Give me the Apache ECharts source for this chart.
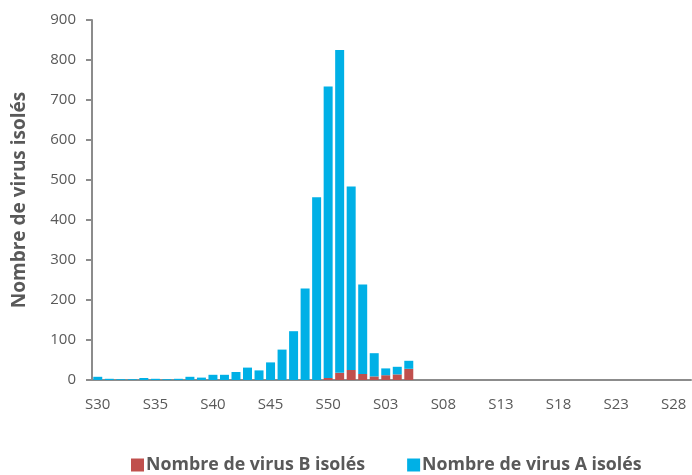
<!DOCTYPE html>
<html>
<head>
<meta charset="utf-8">
<script src="https://cdn.jsdelivr.net/npm/echarts@6/dist/echarts.min.js"></script>
<style>html,body{margin:0;padding:0;background:#fff}#c{width:692px;height:475px}</style>
</head>
<body>
<div id="c"></div>
<script>
const weeks = ["S30","S31","S32","S33","S34","S35","S36","S37","S38","S39","S40","S41","S42","S43","S44","S45","S46","S47","S48","S49","S50","S51","S52",
  "S01","S02","S03","S04","S05","S06","S07","S08","S09","S10","S11","S12","S13","S14","S15","S16","S17","S18","S19","S20","S21","S22","S23","S24","S25","S26","S27","S28","S29"];
const virusB = [0,0,0,0,0,0,0,0,0,0,0,0,0,0,0,0,0,0,0,0,5,18,25,
  15,9,12,14,28,0,0,0,0,0,0,0,0,0,0,0,0,0,0,0,0,0,0,0,0,0,0,0,0];
const virusA = [8,3,2,2,5,3,2,3,8,6,13,13,20,31,24,44,76,122,229,457,729,807,459,
  224,58,17,19,20,0,0,0,0,0,0,0,0,0,0,0,0,0,0,0,0,0,0,0,0,0,0,0,0];
const yTicks = { min: 0, max: 900, step: 100 };
const seriesNames = ["Nombre de virus B isolés", "Nombre de virus A isolés"];
const yTitle = "Nombre de virus isolés";

const font = "'Open Sans', sans-serif";
const grey = '#595959';
const axisGrey = '#8c8c8c';
const chart = echarts.init(document.getElementById('c'), null, {renderer: 'canvas'});
chart.setOption({
  animation: false,
  backgroundColor: '#fff',
  grid: { left: 92, right: 1, top: 20, bottom: 95 },
  legend: {
    left: 126, top: 451,
    itemWidth: 13, itemHeight: 13, itemGap: 42,
    icon: 'rect',
    textStyle: { fontFamily: font, fontSize: 17.8, fontWeight: 'bold', color: grey, padding: [0,0,0,-3] },
    data: seriesNames
  },
  xAxis: {
    type: 'category',
    data: weeks,
    boundaryGap: true,
    axisLine: { lineStyle: { color: axisGrey, width: 2 } },
    axisTick: { interval: 4, length: 6, lineStyle: { color: axisGrey, width: 2 } },
    axisLabel: { interval: 4, margin: 17, fontFamily: font, fontSize: 15, color: grey }
  },
  yAxis: {
    type: 'value',
    min: yTicks.min, max: yTicks.max, interval: yTicks.step,
    name: yTitle, nameLocation: 'middle', nameRotate: 90, nameGap: 63,
    nameTextStyle: { fontFamily: font, fontSize: 19, fontWeight: 'bold', color: grey },
    axisLine: { show: true, lineStyle: { color: axisGrey, width: 2 } },
    axisTick: { show: true, length: 6, lineStyle: { color: axisGrey, width: 2 } },
    splitLine: { show: false },
    axisLabel: { margin: 16, fontFamily: font, fontSize: 15, color: grey }
  },
  series: [
    { name: seriesNames[0], type: 'bar', stack: 'v', data: virusB, barCategoryGap: '22%',
      itemStyle: { color: '#C0504D' } },
    { name: seriesNames[1], type: 'bar', stack: 'v', data: virusA, barCategoryGap: '22%',
      itemStyle: { color: '#00B0E6' } }
  ]
});
</script>
</body>
</html>
